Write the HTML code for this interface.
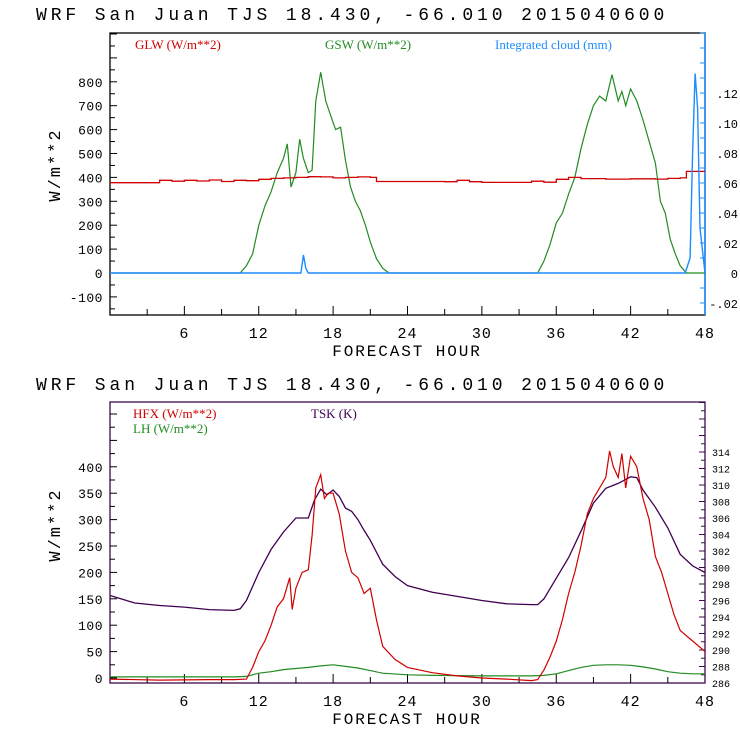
<!DOCTYPE html>
<html><head><meta charset="utf-8">
<style>
html,body{margin:0;padding:0;background:#fff;width:740px;height:740px;overflow:hidden}
svg{display:block}
text{font-family:"Liberation Mono",monospace}
</style></head>
<body>
<svg id="chart" width="740" height="740" viewBox="0 0 740 740"></svg>
<script>
// ---------- data ----------
const xTicks = [6,12,18,24,30,36,42,48];
const topLeftTicks = [-100,0,100,200,300,400,500,600,700,800];
const topRightTicks = [-0.02,0,0.02,0.04,0.06,0.08,0.10,0.12];
const topRightLabels = ['-.02','0','.02','.04','.06','.08','.10','.12'];
const botLeftTicks = [0,50,100,150,200,250,300,350,400];
const botRightTicks = [286,288,290,292,294,296,298,300,302,304,306,308,310,312,314];

const glwHours = [0,3.5,4,5,6,7,8,9,10,11,12,13,14,15,16,17,18,19,20,21,21.5,27,28,29,30,33,34,35,36,37,38,40,42,44,45,46,46.5,48];
const glwVals  = [378,378,388,384,388,385,389,383,388,386,392,396,398,400,403,402,398,400,402,400,383,382,388,382,379,379,384,380,392,400,395,393,394,393,396,398,425,425];

const gswHours = [0,10.5,11,11.5,12,12.5,13,13.5,14,14.3,14.6,15,15.3,15.6,16,16.3,16.6,17,17.4,17.8,18.2,18.6,19,19.4,19.8,20.2,20.6,21,21.5,22,22.5,34.5,35,35.5,36,36.5,37,37.5,38,38.5,39,39.5,40,40.5,41,41.3,41.6,42,42.5,43,43.5,44,44.4,44.8,45.2,45.6,46,46.5,48];
const gswVals  = [0,0,30,80,200,280,340,420,480,540,360,420,560,480,420,430,720,840,720,660,600,610,470,360,300,260,200,130,60,20,0,0,50,120,210,250,330,400,520,620,700,740,720,830,720,760,700,770,720,640,550,460,300,250,140,80,30,0,0];

const cloudHours = [0,15.4,15.6,15.8,16,46.4,46.8,47.0,47.2,47.4,47.6,48];
const cloudVals  = [0,0,0.012,0.003,0,0,0.01,0.08,0.133,0.11,0.03,0];

const hfxHours = [0,4,8,10,11,11.5,12,12.5,13,13.5,14,14.5,14.7,15,15.5,16,16.3,16.6,17,17.3,17.6,18,18.5,19,19.5,20,20.5,21,21.5,22,23,24,26,28,30,32,34,34.5,35,35.5,36,36.5,37,37.5,38,38.5,39,39.5,40,40.3,40.6,41,41.3,41.6,42,42.5,43,43.5,44,44.5,45,45.5,46,47,48];
const hfxVals  = [-2,-4,-3,-3,-2,20,50,70,100,135,150,190,130,170,200,205,270,360,385,340,350,350,310,240,200,190,160,170,110,60,35,20,10,4,0,-2,-5,-3,15,40,70,110,160,200,250,310,340,360,380,430,400,380,425,360,420,400,340,300,230,200,160,120,90,70,50];

const lhHours = [0,10,11,12,13,14,15,16,17,18,19,20,21,22,24,26,30,34,35,36,37,38,39,40,41,42,43,44,45,46,47,48];
const lhVals  = [2,2,3,9,12,16,18,20,23,25,22,19,14,9,6,5,4,4,5,8,14,20,24,25,25,24,21,17,12,9,8,8];

const tskHours = [0,2,4,6,8,10,10.5,11,12,13,14,15,16,16.5,17,17.5,18,18.5,19,19.5,20,20.5,21,22,23,24,26,28,30,32,34,34.5,35,36,37,38,39,40,41,42,42.5,43,44,45,46,47,48];
const tskVals  = [296.6,295.7,295.4,295.2,294.9,294.8,295.0,296.0,299.4,302.2,304.3,306.0,306.0,308.2,309.5,308.8,309.4,308.6,307.2,306.8,305.8,304.5,303.3,300.4,298.9,297.8,297.0,296.5,296.0,295.6,295.5,295.5,296.2,298.7,301.2,304.4,307.8,309.6,310.2,311.0,310.9,309.4,307.3,304.8,301.6,300.2,299.4];

// ---------- drawing helpers ----------
const svg = document.getElementById('chart');
const NS = 'http://www.w3.org/2000/svg';
function mk(tag, attrs, parent){
  const e = document.createElementNS(NS, tag);
  for (const k in attrs) e.setAttribute(k, attrs[k]);
  (parent||svg).appendChild(e);
  return e;
}
const X0 = 110, X1 = 705;
function xs(h){ return X0 + (X1 - X0) * h / 48; }
const T = {top:33, bot:315};
function yTopL(v){ return 273 - v * 0.239; }
function yTopR(v){ return 273 - v * 1500; }
const B = {top:402, bot:683};
function yBotL(v){ return 678 - v * 0.528; }
function yBotR(k){ return 683 - (k - 286) * 8.25; }

function stepPath(hours, vals, yf){
  let d = '';
  for (let i = 0; i < hours.length; i++){
    const x = xs(hours[i]).toFixed(1), y = yf(vals[i]).toFixed(1);
    if (i === 0) d += 'M' + x + ' ' + y;
    else d += ' L' + x + ' ' + yf(vals[i-1]).toFixed(1) + ' L' + x + ' ' + y;
  }
  return d;
}
function linePath(hours, vals, yf){
  return hours.map((h,i)=>(i?'L':'M') + xs(h).toFixed(1) + ' ' + yf(vals[i]).toFixed(1)).join(' ');
}

function title(y, name){
  const t = mk('text', {x:36, y:y, 'font-size':18, 'letter-spacing':3.9, fill:'#000'});
  
  
  t.textContent = 'WRF  San Juan TJS  18.430, -66.010  2015040600';
}
function xAxis(p, name){
  const g = mk('g', {});
  
  
  for (let h = 3; h < 48; h += 3){
    const len = (h % 6 === 0) ? 9 : 6;
    mk('line', {x1:xs(h), x2:xs(h), y1:p.bot, y2:p.bot-len, stroke:'#000', 'stroke-width':1}, g);
  }
  xTicks.forEach(h=>{
    const t = mk('text', {x:xs(h), y:p.bot+23, 'text-anchor':'middle', 'font-size':15, 'letter-spacing':1, fill:'#000'}, g);
    
    
    t.textContent = h;
  });
  const lab = mk('text', {x:407, y:p.bot+41, 'text-anchor':'middle', 'font-size':16, 'letter-spacing':1.9, fill:'#000'}, g);
  
  
  lab.textContent = 'FORECAST HOUR';
}
function yLabel(cx, cy, name){
  const t = mk('text', {x:cx, y:cy, 'text-anchor':'middle', 'font-size':17, 'letter-spacing':2, fill:'#000', transform:'rotate(-90 '+cx+' '+cy+')'});
  
  
  t.textContent = 'W/m**2';
}
function legend(x, y, txt, color, name){
  const t = mk('text', {x:x, y:y, 'font-size':13, fill:color, style:'font-family:"Liberation Serif",serif'});
  
  
  t.textContent = txt;
}

// ---------- top panel ----------
title(20, 'top-chart-title');
mk('rect', {x:X0, y:T.top, width:X1-X0, height:T.bot-T.top, fill:'none', stroke:'#000', 'stroke-width':1.3});
mk('line', {x1:X1, x2:X1, y1:T.top, y2:T.bot, stroke:'#1e8cff', 'stroke-width':1.5});
for (let v = -150; v <= 1000; v += 50){
  const y = yTopL(v); if (y < T.top || y > T.bot) continue;
  mk('line', {x1:X0, x2:X0+(v%100===0?7:5), y1:y, y2:y, stroke:'#000'});
}
topLeftTicks.forEach(v=>{
  const t = mk('text', {x:103, y:yTopL(v)+5, 'text-anchor':'end', 'font-size':13, 'letter-spacing':0.5, fill:'#000'});
  
  
  t.textContent = v;
});
for (let v = -0.02; v <= 0.16; v += 0.01){
  const y = yTopR(v); if (y < T.top || y > T.bot) continue;
  mk('line', {x1:X1, x2:X1-5, y1:y, y2:y, stroke:'#1e8cff'});
}
topRightTicks.forEach((v,i)=>{
  const t = mk('text', {x:738, y:yTopR(v)+5, 'text-anchor':'end', 'font-size':12, fill:'#000'});
  
  
  t.textContent = topRightLabels[i];
});
xAxis(T, 'top-x-axis');
yLabel(60, 165, 'top-y-axis-title');
legend(135, 49, 'GLW (W/m**2)', '#d00000', 'legend-glw');
legend(325, 49, 'GSW (W/m**2)', '#228b22', 'legend-gsw');
legend(495, 49, 'Integrated cloud (mm)', '#1e8cff', 'legend-cloud');
let p;
p = mk('path', {d:linePath(gswHours, gswVals, yTopL), fill:'none', stroke:'#228b22', 'stroke-width':1.2});


p = mk('path', {d:stepPath(glwHours, glwVals, yTopL), fill:'none', stroke:'#d00000', 'stroke-width':1.3});


p = mk('path', {d:linePath(cloudHours, cloudVals, yTopR), fill:'none', stroke:'#1e8cff', 'stroke-width':1.4});



// ---------- bottom panel ----------
title(390, 'bottom-chart-title');
mk('rect', {x:X0, y:B.top, width:X1-X0, height:B.bot-B.top, fill:'none', stroke:'#3c0a4a', 'stroke-width':1.3});
for (let v = 0; v <= 525; v += 25){
  const y = yBotL(v); if (y < B.top || y > B.bot) continue;
  mk('line', {x1:X0, x2:X0+(v%50===0?7:5), y1:y, y2:y, stroke:'#000'});
}
botLeftTicks.forEach(v=>{
  const t = mk('text', {x:103, y:yBotL(v)+5, 'text-anchor':'end', 'font-size':13, 'letter-spacing':0.5, fill:'#000'});
  
  
  t.textContent = v;
});
for (let k = 286; k <= 320; k += 1){
  const y = yBotR(k); if (y < B.top || y > B.bot) continue;
  mk('line', {x1:X1, x2:X1-(k%2===0?6:4), y1:y, y2:y, stroke:'#3c0a4a'});
}
botRightTicks.forEach(k=>{
  const t = mk('text', {x:712, y:yBotR(k)+4, 'font-size':10, fill:'#000'});
  
  
  t.textContent = k;
});
xAxis(B, 'bottom-x-axis');
yLabel(60, 525, 'bottom-y-axis-title');
legend(133, 418, 'HFX (W/m**2)', '#d00000', 'legend-hfx');
legend(133, 433, 'LH  (W/m**2)', '#228b22', 'legend-lh');
legend(311, 418, 'TSK (K)', '#400050', 'legend-tsk');
p = mk('path', {d:linePath(lhHours, lhVals, yBotL), fill:'none', stroke:'#228b22', 'stroke-width':1.2});


p = mk('path', {d:linePath(tskHours, tskVals, yBotR), fill:'none', stroke:'#400050', 'stroke-width':1.3});


p = mk('path', {d:linePath(hfxHours, hfxVals, yBotL), fill:'none', stroke:'#d00000', 'stroke-width':1.2});


</script>
</body></html>
